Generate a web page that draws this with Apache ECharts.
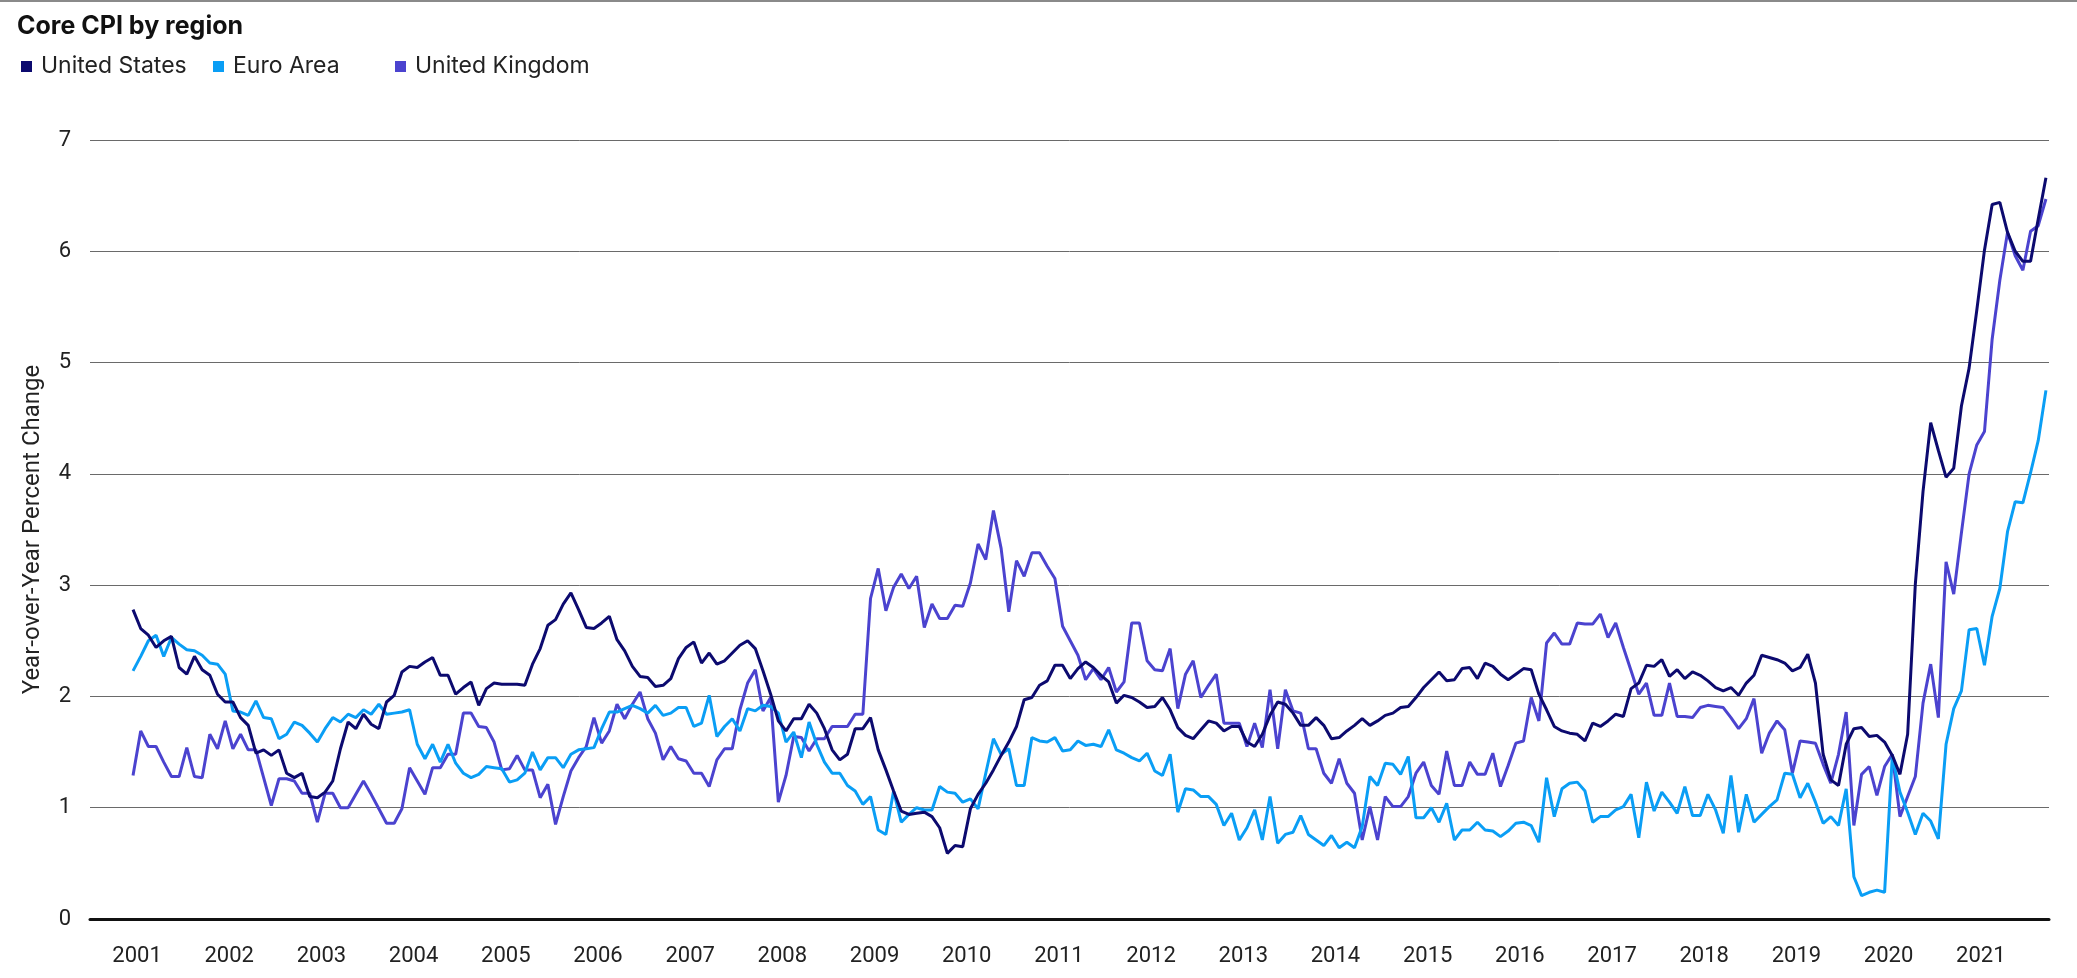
<!DOCTYPE html>
<html>
<head>
<meta charset="utf-8">
<title>Core CPI by region</title>
<script src="https://cdn.jsdelivr.net/npm/echarts@6/dist/echarts.min.js"></script>
<style>
  html, body { margin: 0; padding: 0; background: #fff; }
  #chart { width: 2077px; height: 978px; }
</style>
</head>
<body>
<div id="chart"></div>
<script>
// monthly year-over-year core CPI, Jan 2001 onwards
const startYear = 2001;
const yearLabels = [2001, 2002, 2003, 2004, 2005, 2006, 2007, 2008, 2009, 2010, 2011,
    2012, 2013, 2014, 2015, 2016, 2017, 2018, 2019, 2020, 2021];

const usCore = [
    2.78, 2.61, 2.55, 2.44, 2.50, 2.54, 2.26, 2.20, 2.36, 2.24, 2.19, 2.02,
    1.95, 1.95, 1.81, 1.74, 1.49, 1.52, 1.47, 1.52, 1.31, 1.27, 1.31, 1.10,
    1.09, 1.14, 1.24, 1.53, 1.77, 1.71, 1.84, 1.75, 1.71, 1.95, 2.01, 2.22,
    2.27, 2.26, 2.31, 2.35, 2.19, 2.19, 2.02, 2.08, 2.13, 1.92, 2.07, 2.12,
    2.11, 2.11, 2.11, 2.10, 2.29, 2.43, 2.64, 2.69, 2.83, 2.93, 2.78, 2.62,
    2.61, 2.66, 2.72, 2.51, 2.41, 2.27, 2.18, 2.17, 2.09, 2.10, 2.16, 2.34,
    2.44, 2.49, 2.30, 2.39, 2.29, 2.32, 2.39, 2.46, 2.50, 2.43, 2.23, 2.02,
    1.78, 1.69, 1.80, 1.80, 1.93, 1.85, 1.71, 1.52, 1.43, 1.48, 1.71, 1.71,
    1.81, 1.52, 1.34, 1.15, 0.97, 0.94, 0.95, 0.96, 0.92, 0.82, 0.59, 0.66,
    0.65, 0.99, 1.12, 1.22, 1.34, 1.47, 1.59, 1.73, 1.97, 1.99, 2.10, 2.14,
    2.28, 2.28, 2.16, 2.25, 2.31, 2.26, 2.19, 2.13, 1.94, 2.01, 1.99, 1.95,
    1.90, 1.91, 1.99, 1.88, 1.72, 1.65, 1.62, 1.70, 1.78, 1.76, 1.69, 1.73,
    1.73, 1.59, 1.55, 1.66, 1.83, 1.95, 1.93, 1.85, 1.74, 1.74, 1.81, 1.74,
    1.62, 1.63, 1.69, 1.74, 1.80, 1.74, 1.78, 1.83, 1.85, 1.90, 1.91, 1.99,
    2.08, 2.15, 2.22, 2.14, 2.15, 2.25, 2.26, 2.16, 2.30, 2.27, 2.20, 2.15,
    2.20, 2.25, 2.24, 2.02, 1.88, 1.73, 1.69, 1.67, 1.66, 1.60, 1.76, 1.73,
    1.78, 1.84, 1.82, 2.07, 2.12, 2.28, 2.27, 2.33, 2.18, 2.24, 2.16, 2.22,
    2.19, 2.14, 2.08, 2.05, 2.08, 2.01, 2.12, 2.19, 2.37, 2.35, 2.33, 2.30,
    2.23, 2.26, 2.38, 2.12, 1.48, 1.25, 1.20, 1.57, 1.71, 1.72, 1.64, 1.65,
    1.59, 1.47, 1.30, 1.66, 3.01, 3.84, 4.46, 4.21, 3.97, 4.05, 4.61, 4.95,
    5.47, 6.01, 6.42, 6.44, 6.17, 6.00, 5.91, 5.91, 6.29, 6.66
];

const euroCore = [
    2.23, 2.36, 2.50, 2.55, 2.36, 2.53, 2.47, 2.42, 2.41, 2.37, 2.30, 2.29,
    2.20, 1.87, 1.86, 1.83, 1.96, 1.81, 1.80, 1.62, 1.66, 1.77, 1.74, 1.67,
    1.59, 1.71, 1.81, 1.77, 1.84, 1.81, 1.88, 1.84, 1.93, 1.84, 1.85, 1.86,
    1.88, 1.57, 1.44, 1.57, 1.41, 1.57, 1.40, 1.31, 1.27, 1.30, 1.37, 1.36,
    1.35, 1.23, 1.25, 1.31, 1.50, 1.34, 1.45, 1.45, 1.36, 1.48, 1.52, 1.53,
    1.54, 1.71, 1.86, 1.86, 1.89, 1.92, 1.89, 1.85, 1.92, 1.83, 1.85, 1.90,
    1.90, 1.73, 1.76, 2.01, 1.64, 1.73, 1.80, 1.69, 1.89, 1.87, 1.92, 1.91,
    1.85, 1.59, 1.68, 1.45, 1.77, 1.57, 1.41, 1.31, 1.31, 1.20, 1.15, 1.03,
    1.10, 0.80, 0.76, 1.15, 0.87, 0.94, 1.00, 0.98, 0.98, 1.19, 1.14, 1.13,
    1.05, 1.08, 0.99, 1.31, 1.62, 1.48, 1.53, 1.20, 1.20, 1.63, 1.60, 1.59,
    1.63, 1.51, 1.52, 1.60, 1.56, 1.57, 1.55, 1.70, 1.52, 1.49, 1.45, 1.42,
    1.49, 1.33, 1.29, 1.48, 0.96, 1.17, 1.16, 1.10, 1.10, 1.03, 0.84, 0.95,
    0.71, 0.82, 0.98, 0.71, 1.10, 0.68, 0.76, 0.78, 0.93, 0.76, 0.71, 0.66,
    0.75, 0.64, 0.69, 0.64, 0.83, 1.28, 1.20, 1.40, 1.39, 1.30, 1.46, 0.91,
    0.91, 1.00, 0.87, 1.04, 0.71, 0.80, 0.80, 0.87, 0.80, 0.79, 0.74, 0.79,
    0.86, 0.87, 0.84, 0.69, 1.27, 0.92, 1.17, 1.22, 1.23, 1.15, 0.87, 0.92,
    0.92, 0.98, 1.01, 1.12, 0.73, 1.23, 0.97, 1.14, 1.05, 0.95, 1.19, 0.93,
    0.93, 1.12, 0.98, 0.77, 1.29, 0.78, 1.12, 0.87, 0.94, 1.01, 1.07, 1.31,
    1.30, 1.09, 1.22, 1.05, 0.86, 0.92, 0.84, 1.17, 0.38, 0.21, 0.24, 0.26,
    0.24, 1.46, 1.14, 0.96, 0.76, 0.95, 0.88, 0.72, 1.57, 1.89, 2.05, 2.60,
    2.61, 2.28, 2.72, 2.97, 3.48, 3.75, 3.74, 4.01, 4.30, 4.75
];

const ukCore = [
    1.29, 1.69, 1.55, 1.55, 1.41, 1.28, 1.28, 1.54, 1.28, 1.27, 1.66, 1.53,
    1.78, 1.53, 1.66, 1.52, 1.52, 1.27, 1.02, 1.26, 1.26, 1.24, 1.13, 1.13,
    0.87, 1.13, 1.13, 1.00, 1.00, 1.12, 1.24, 1.12, 0.99, 0.86, 0.86, 0.99,
    1.36, 1.24, 1.12, 1.36, 1.36, 1.48, 1.48, 1.85, 1.85, 1.73, 1.72, 1.59,
    1.34, 1.35, 1.47, 1.34, 1.34, 1.09, 1.21, 0.85, 1.10, 1.33, 1.45, 1.55,
    1.81, 1.58, 1.69, 1.93, 1.80, 1.93, 2.04, 1.80, 1.67, 1.43, 1.55, 1.44,
    1.42, 1.31, 1.31, 1.19, 1.43, 1.53, 1.53, 1.88, 2.12, 2.24, 1.87, 1.99,
    1.05, 1.29, 1.64, 1.63, 1.51, 1.62, 1.62, 1.73, 1.73, 1.73, 1.84, 1.84,
    2.88, 3.15, 2.77, 2.98, 3.10, 2.97, 3.08, 2.62, 2.83, 2.70, 2.70, 2.82,
    2.81, 3.02, 3.37, 3.23, 3.67, 3.33, 2.76, 3.22, 3.08, 3.29, 3.29, 3.17,
    3.06, 2.63, 2.50, 2.37, 2.15, 2.25, 2.15, 2.26, 2.04, 2.13, 2.66, 2.66,
    2.32, 2.24, 2.23, 2.43, 1.89, 2.20, 2.32, 1.99, 2.10, 2.20, 1.76, 1.76,
    1.76, 1.55, 1.76, 1.54, 2.06, 1.53, 2.06, 1.87, 1.85, 1.53, 1.53, 1.31,
    1.22, 1.44, 1.22, 1.13, 0.71, 1.01, 0.71, 1.10, 1.01, 1.01, 1.10, 1.31,
    1.41, 1.20, 1.12, 1.51, 1.20, 1.20, 1.41, 1.30, 1.30, 1.49, 1.19, 1.38,
    1.58, 1.60, 1.99, 1.78, 2.48, 2.57, 2.47, 2.47, 2.66, 2.65, 2.65, 2.74,
    2.53, 2.66, 2.44, 2.23, 2.02, 2.12, 1.83, 1.83, 2.12, 1.82, 1.82, 1.81,
    1.90, 1.92, 1.91, 1.90, 1.81, 1.71, 1.80, 1.98, 1.49, 1.67, 1.78, 1.70,
    1.31, 1.60, 1.59, 1.58, 1.39, 1.22, 1.48, 1.86, 0.84, 1.30, 1.37, 1.11,
    1.37, 1.48, 0.92, 1.10, 1.28, 1.94, 2.29, 1.81, 3.21, 2.92, 3.47, 4.00,
    4.26, 4.38, 5.21, 5.74, 6.17, 5.96, 5.83, 6.18, 6.23, 6.47
];

const seriesNames = ['United States', 'Euro Area', 'United Kingdom'];
const seriesColors = ['#0c0a6f', '#0a9ef5', '#4b43cf'];
const legendLeft = [16, 208, 390];

// x = months since Jan of startYear
const toPoints = arr => arr.map((v, i) => [i, v]);

const chart = echarts.init(document.getElementById('chart'), null, { renderer: 'canvas' });

const option = {
    animation: false,
    backgroundColor: '#fff',
    textStyle: { fontFamily: 'Inter, "Noto Sans", sans-serif' },
    title: {
        text: 'Core CPI by region',
        left: 12,
        top: 9,
        textStyle: { fontSize: 25, fontWeight: 'bold', color: '#111', fontFamily: 'Inter' },
    },
    // one legend per item so each sits where the original puts it
    legend: seriesNames.map((name, k) => ({
        left: legendLeft[k],
        top: 50,
        icon: 'rect',
        itemWidth: 11,
        itemHeight: 11,
        textStyle: { fontSize: 23, color: '#222', padding: [0, 0, 0, 4], fontFamily: 'Inter' },
        data: [name],
    })),
    grid: { left: 90, right: 28, top: 140, bottom: 59, containLabel: false },
    xAxis: {
        type: 'value',
        min: -5.6,
        max: 249.4,
        axisLine: { show: true, onZero: false, lineStyle: { color: '#111', width: 3 } },
        axisTick: { show: false },
        splitLine: { show: false },
        axisLabel: {
            customValues: yearLabels.map(y => (y - startYear) * 12),
            formatter: v => String(startYear + Math.round(v / 12)),
            margin: 26,
            fontSize: 22,
            color: '#222',
            padding: [0, 0, 0, 8],
            fontFamily: 'Roboto',
        },
    },
    yAxis: {
        type: 'value',
        min: 0,
        max: 7,
        interval: 1,
        name: 'Year-over-Year Percent Change',
        nameLocation: 'middle',
        nameRotate: 90,
        nameGap: 45,
        nameTextStyle: { fontSize: 24, color: '#222', fontFamily: 'Roboto' },
        axisLine: { show: false },
        axisTick: { show: false },
        axisLabel: { margin: 19, fontSize: 22, color: '#222', fontFamily: 'Roboto' },
        splitLine: { lineStyle: { color: '#6a6a6a', width: 1 } },
    },
    graphic: [{
        type: 'rect',
        shape: { x: 0, y: 0, width: 2077, height: 2 },
        style: { fill: '#8a8a8a' },
        silent: true,
    }],
    series: [usCore, euroCore, ukCore].map((arr, k) => ({
        name: seriesNames[k],
        type: 'line',
        data: toPoints(arr),
        showSymbol: false,
        symbol: 'none',
        lineStyle: { width: 3, color: seriesColors[k] },
        itemStyle: { color: seriesColors[k] },
        z: 3 - k,
    })),
};

chart.setOption(option);
</script>
</body>
</html>
